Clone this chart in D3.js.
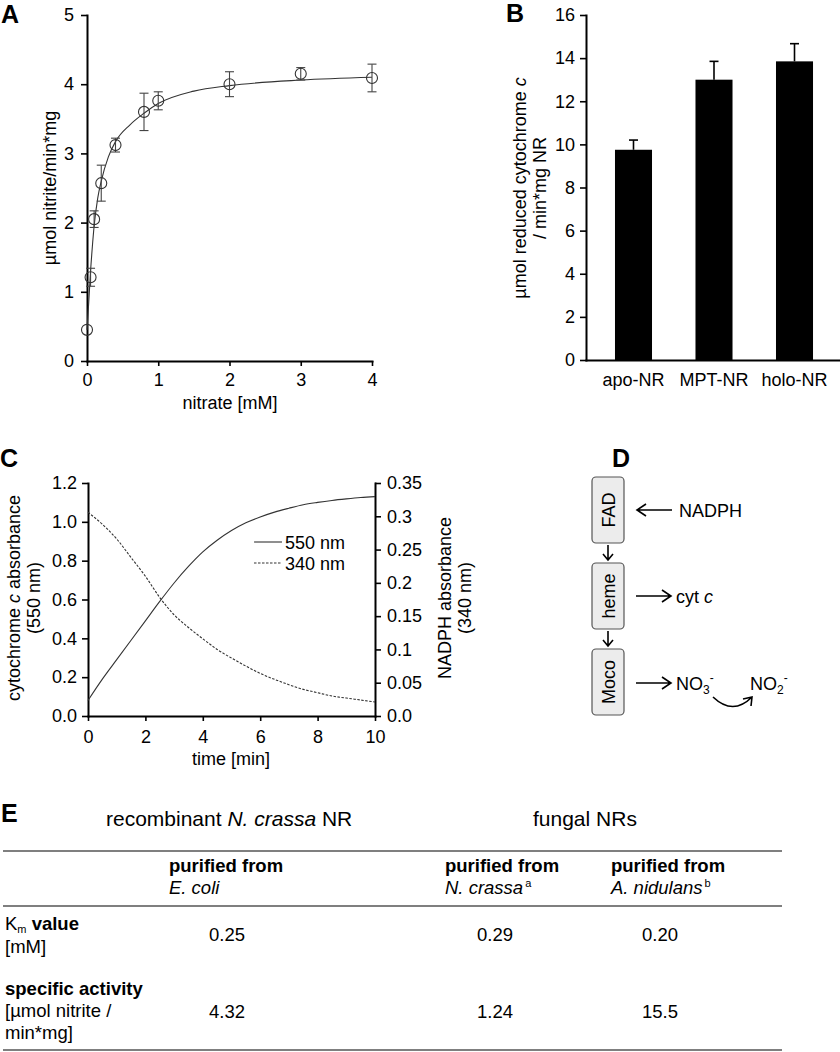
<!DOCTYPE html>
<html><head><meta charset="utf-8">
<script src="https://cdn.jsdelivr.net/npm/d3@7"></script>
<style>
body{margin:0;background:#fff}
svg{display:block}
text{font-family:"Liberation Sans",Arial,Helvetica,sans-serif;fill:#000}
</style>
</head><body>
<svg id="c" width="840" height="1052"></svg>
<script>
// ---------- Panel A data ----------
const nitrateConc = [0, 0.05, 0.1, 0.2, 0.4, 0.8, 1, 2, 3, 4];
const nitriteRate = [0.45, 1.21, 2.05, 2.57, 3.12, 3.6, 3.76, 4.0, 4.15, 4.09];
const nitriteErr  = [0, 0.13, 0.12, 0.26, 0.1, 0.27, 0.13, 0.18, 0.09, 0.2];
const fitX = [0, 0.025, 0.05, 0.075, 0.1, 0.15, 0.2, 0.3, 0.4, 0.6, 0.8, 1, 1.5, 2, 3, 4];
const fitY = [0.45, 0.86, 1.3, 1.65, 1.95, 2.35, 2.6, 2.95, 3.17, 3.41, 3.58, 3.72, 3.9, 3.98, 4.06, 4.1];
const xTicksA = [0, 1, 2, 3, 4];
const yTicksA = [0, 1, 2, 3, 4, 5];

// ---------- Panel B data ----------
const variants = ["apo-NR", "MPT-NR", "holo-NR"];
const cytcActivity = [9.75, 13.0, 13.85];
const cytcErr = [0.45, 0.85, 0.82];
const yTicksB = [0, 2, 4, 6, 8, 10, 12, 14, 16];

// ---------- Panel C data ----------
const timeMin = [0, 0.5, 1, 1.5, 2, 2.5, 3, 3.5, 4, 4.5, 5, 5.5, 6, 6.5, 7, 7.5, 8, 8.5, 9, 9.5, 10];
const abs550 = [0.08, 0.19, 0.29, 0.39, 0.49, 0.59, 0.685, 0.77, 0.845, 0.905, 0.955, 0.995, 1.025, 1.05, 1.07, 1.088, 1.1, 1.11, 1.118, 1.125, 1.13];
const abs340 = [0.306, 0.288, 0.266, 0.238, 0.21, 0.178, 0.152, 0.133, 0.116, 0.1, 0.087, 0.075, 0.064, 0.055, 0.047, 0.04, 0.035, 0.03, 0.027, 0.024, 0.021];
const xTicksC = [0, 2, 4, 6, 8, 10];
const yTicksCL = [0, 0.2, 0.4, 0.6, 0.8, 1.0, 1.2];
const yTicksCR = [0, 0.05, 0.1, 0.15, 0.2, 0.25, 0.3, 0.35];
const yTickLabelsCR = ["0.0", "0.05", "0.1", "0.15", "0.2", "0.25", "0.3", "0.35"];
const legendC = ["550 nm", "340 nm"];

// ---------- Panel E data ----------
const kmValues = ["0.25", "0.29", "0.20"];
const activityValues = ["4.32", "1.24", "15.5"];
const sourceOrganisms = ["E. coli", "N. crassa", "A. nidulans"];
const sourceNotes = ["", "a", "b"];

const svg = d3.select("#c");

function styleAxis(g) {
  g.selectAll("text").style("font-size", "18px").attr("fill", "#000");
  g.select(".domain").attr("stroke", "#000").attr("stroke-width", 2).attr("stroke-linecap", "square");
  g.selectAll(".tick line").attr("stroke", "#000").attr("stroke-width", 1.6);
}
function panelLetter(t, x, y) {
  svg.append("text").attr("x", x).attr("y", y).text(t)
    .style("font-size", "25px").style("font-weight", "bold");
}

// =============== Panel A ===============
const xA = d3.scaleLinear().domain([0, 4]).range([87, 372]);
const yA = d3.scaleLinear().domain([0, 5]).range([361, 15]);
const gA = svg.append("g");
gA.append("g").attr("transform", "translate(0,361)")
  .call(d3.axisBottom(xA).tickValues(xTicksA).tickFormat(d3.format("d")).tickSize(5).tickPadding(7).tickSizeOuter(0))
  .call(styleAxis);
gA.append("g").attr("transform", "translate(87,0)")
  .call(d3.axisLeft(yA).tickValues(yTicksA).tickFormat(d3.format("d")).tickSize(6).tickPadding(7).tickSizeOuter(0))
  .call(styleAxis);
const fitPts = fitX.map((x, i) => [x, fitY[i]]);
gA.append("path").datum(fitPts)
  .attr("d", d3.line().x(d => xA(d[0])).y(d => yA(d[1])).curve(d3.curveMonotoneX))
  .attr("fill", "none").attr("stroke", "#333").attr("stroke-width", 1.1);
const ptsA = nitrateConc.map((x, i) => ({x, y: nitriteRate[i], e: nitriteErr[i]}));
const errA = gA.append("g").attr("stroke", "#444").attr("stroke-width", 1.1);
ptsA.filter(d => d.e > 0).forEach(d => {
  const cx = xA(d.x);
  errA.append("line").attr("x1", cx).attr("x2", cx).attr("y1", yA(d.y - d.e)).attr("y2", yA(d.y + d.e));
  errA.append("line").attr("x1", cx - 4.5).attr("x2", cx + 4.5).attr("y1", yA(d.y - d.e)).attr("y2", yA(d.y - d.e));
  errA.append("line").attr("x1", cx - 4.5).attr("x2", cx + 4.5).attr("y1", yA(d.y + d.e)).attr("y2", yA(d.y + d.e));
});
gA.selectAll("circle").data(ptsA).join("circle")
  .attr("cx", d => xA(d.x)).attr("cy", d => yA(d.y)).attr("r", 5.5)
  .attr("fill", "none").attr("stroke", "#333").attr("stroke-width", 1.1);
gA.append("text").attr("x", 230).attr("y", 409).attr("text-anchor", "middle").style("font-size", "18px").text("nitrate [mM]");
gA.append("text").attr("transform", "translate(56,188) rotate(-90)").attr("text-anchor", "middle")
  .style("font-size", "18px").text("µmol nitrite/min*mg");
panelLetter("A", 1, 23);

// =============== Panel B ===============
const xB = d3.scaleBand().domain(variants).range([586, 842]).paddingInner(0.54).paddingOuter(0.36);
const yB = d3.scaleLinear().domain([0, 16]).range([360, 15]);
const gB = svg.append("g");
gB.selectAll("rect").data(variants).join("rect")
  .attr("x", d => xB(d)).attr("width", xB.bandwidth())
  .attr("y", (d, i) => yB(cytcActivity[i])).attr("height", (d, i) => yB(0) - yB(cytcActivity[i]))
  .attr("fill", "#000");
variants.forEach((v, i) => {
  const cx = xB(v) + xB.bandwidth() / 2;
  const top = yB(cytcActivity[i] + cytcErr[i]);
  gB.append("line").attr("x1", cx).attr("x2", cx).attr("y1", yB(cytcActivity[i])).attr("y2", top).attr("stroke", "#000").attr("stroke-width", 1.6);
  gB.append("line").attr("x1", cx - 4.5).attr("x2", cx + 4.5).attr("y1", top).attr("y2", top).attr("stroke", "#000").attr("stroke-width", 1.6);
});
gB.append("g").attr("transform", "translate(586,0)")
  .call(d3.axisLeft(yB).tickValues(yTicksB).tickFormat(d3.format("d")).tickSize(6).tickPadding(5).tickSizeOuter(0))
  .call(styleAxis);
gB.append("g").attr("transform", "translate(0,360)")
  .call(d3.axisBottom(xB).tickSize(0).tickPadding(13).tickSizeOuter(0))
  .call(styleAxis);
gB.append("text").attr("transform", "translate(526,188) rotate(-90)").attr("text-anchor", "middle")
  .style("font-size", "18px")
  .call(t => { t.append("tspan").text("µmol reduced cytochrome "); t.append("tspan").style("font-style", "italic").text("c"); });
gB.append("text").attr("transform", "translate(546,188) rotate(-90)").attr("text-anchor", "middle")
  .style("font-size", "18px").text("/ min*mg NR");
panelLetter("B", 506, 22);

// =============== Panel C ===============
const xC = d3.scaleLinear().domain([0, 10]).range([88, 375]);
const yCL = d3.scaleLinear().domain([0, 1.2]).range([716, 483]);
const yCR = d3.scaleLinear().domain([0, 0.35]).range([716, 483]);
const gC = svg.append("g");
gC.append("g").attr("transform", "translate(0,716)")
  .call(d3.axisBottom(xC).tickValues(xTicksC).tickFormat(d3.format("d")).tickSize(5).tickPadding(9).tickSizeOuter(0))
  .call(styleAxis);
gC.append("g").attr("transform", "translate(88,0)")
  .call(d3.axisLeft(yCL).tickValues(yTicksCL).tickFormat(d3.format(".1f")).tickSize(6).tickPadding(5).tickSizeOuter(0))
  .call(styleAxis);
gC.append("g").attr("transform", "translate(375,0)")
  .call(d3.axisRight(yCR).tickValues(yTicksCR).tickFormat((d, i) => yTickLabelsCR[i]).tickSize(6).tickPadding(6).tickSizeOuter(0))
  .call(styleAxis);
gC.append("path").datum(timeMin.map((t, i) => [t, abs550[i]]))
  .attr("d", d3.line().x(d => xC(d[0])).y(d => yCL(d[1])).curve(d3.curveMonotoneX))
  .attr("fill", "none").attr("stroke", "#333").attr("stroke-width", 1.1);
gC.append("path").datum(timeMin.map((t, i) => [t, abs340[i]]))
  .attr("d", d3.line().x(d => xC(d[0])).y(d => yCR(d[1])).curve(d3.curveMonotoneX))
  .attr("fill", "none").attr("stroke", "#333").attr("stroke-width", 1.1).attr("stroke-dasharray", "2.5,1.5");
// legend
const legG = gC.append("g");
legendC.forEach((lab, i) => {
  const ly = 542 + i * 21;
  legG.append("line").attr("x1", 254).attr("x2", 282).attr("y1", ly).attr("y2", ly)
    .attr("stroke", "#333").attr("stroke-width", 1.1).attr("stroke-dasharray", i ? "2.5,1.5" : null);
  legG.append("text").attr("x", 285).attr("y", ly + 6.5).style("font-size", "18px").text(lab);
});
gC.append("text").attr("x", 231).attr("y", 765).attr("text-anchor", "middle").style("font-size", "18px").text("time [min]");
gC.append("text").attr("transform", "translate(20,598) rotate(-90)").attr("text-anchor", "middle").style("font-size", "18px")
  .call(t => { t.append("tspan").text("cytochrome "); t.append("tspan").style("font-style", "italic").text("c"); t.append("tspan").text(" absorbance"); });
gC.append("text").attr("transform", "translate(40,598) rotate(-90)").attr("text-anchor", "middle").style("font-size", "18px").text("(550 nm)");
gC.append("text").attr("transform", "translate(451,598) rotate(-90)").attr("text-anchor", "middle").style("font-size", "18px").text("NADPH absorbance");
gC.append("text").attr("transform", "translate(471,598) rotate(-90)").attr("text-anchor", "middle").style("font-size", "18px").text("(340 nm)");
panelLetter("C", 0, 467);

// =============== Panel D ===============
const gD = svg.append("g");
const boxes = [{t: "FAD", y0: 477, y1: 543}, {t: "heme", y0: 563, y1: 629}, {t: "Moco", y0: 649, y1: 715}];
boxes.forEach(b => {
  gD.append("rect").attr("x", 592).attr("y", b.y0).attr("width", 32).attr("height", b.y1 - b.y0)
    .attr("rx", 4).attr("fill", "#ececec").attr("stroke", "#555").attr("stroke-width", 1.2);
  gD.append("text").attr("transform", `translate(614.5,${(b.y0 + b.y1) / 2}) rotate(-90)`)
    .attr("text-anchor", "middle").style("font-size", "18px").text(b.t);
});
const arrowStroke = g => g.attr("fill", "none").attr("stroke", "#000").attr("stroke-width", 1.6);
[[545, 560], [631, 646]].forEach(([a, b]) => {
  gD.append("path").attr("d", `M608,${a}V${b}M603,${b - 6}L608,${b}L613,${b - 6}`).call(arrowStroke);
});
gD.append("path").attr("d", "M672,510H637M646,504L637,510L646,516").call(arrowStroke);
gD.append("text").attr("x", 679).attr("y", 517).style("font-size", "18px").text("NADPH");
gD.append("path").attr("d", "M636,596H671M662,590L671,596L662,602").call(arrowStroke);
gD.append("text").attr("x", 676).attr("y", 603).style("font-size", "18px")
  .call(t => { t.append("tspan").text("cyt "); t.append("tspan").style("font-style", "italic").text("c"); });
gD.append("path").attr("d", "M636,683H671M662,677L671,683L662,689").call(arrowStroke);
gD.append("text").attr("x", 676).attr("y", 690).style("font-size", "18px")
  .call(t => {
    t.append("tspan").text("NO");
    t.append("tspan").attr("dy", 4).style("font-size", "12px").text("3");
    t.append("tspan").attr("dy", -12).style("font-size", "12px").text("-");
  });
gD.append("text").attr("x", 750).attr("y", 690).style("font-size", "18px")
  .call(t => {
    t.append("tspan").text("NO");
    t.append("tspan").attr("dy", 4).style("font-size", "12px").text("2");
    t.append("tspan").attr("dy", -12).style("font-size", "12px").text("-");
  });
gD.append("path").attr("d", "M713,697Q733,716 752,697M743,699L752,697L751,706").call(arrowStroke);
panelLetter("D", 612, 467);

// =============== Panel E ===============
const gE = svg.append("g");
panelLetter("E", 1, 822);
gE.append("text").attr("x", 106).attr("y", 826).style("font-size", "21px")
  .call(t => { t.append("tspan").text("recombinant "); t.append("tspan").style("font-style", "italic").text("N. crassa"); t.append("tspan").text(" NR"); });
gE.append("text").attr("x", 533).attr("y", 826).style("font-size", "21px").text("fungal NRs");
[851, 906, 1050].forEach(y => gE.append("line").attr("x1", 3).attr("x2", 782).attr("y1", y).attr("y2", y)
  .attr("stroke", "#555").attr("stroke-width", 1.5));
const colX = [169, 445, 611];
const valX = [227, 495, 660];
sourceOrganisms.forEach((org, i) => {
  gE.append("text").attr("x", colX[i]).attr("y", 872).style("font-size", "18.5px").style("font-weight", "bold").text("purified from");
  const t = gE.append("text").attr("x", colX[i]).attr("y", 894).style("font-size", "18.5px");
  t.append("tspan").style("font-style", "italic").text(org);
  if (sourceNotes[i]) t.append("tspan").attr("dx", 2).attr("dy", -7).style("font-size", "11px").text(sourceNotes[i]);
});
gE.append("text").attr("x", 5).attr("y", 930).style("font-size", "18.5px")
  .call(t => {
    t.append("tspan").text("K");
    t.append("tspan").attr("dy", 3).style("font-size", "11px").text("m");
    t.append("tspan").attr("dy", -3).style("font-weight", "bold").text(" value");
  });
gE.append("text").attr("x", 5).attr("y", 953).style("font-size", "18.5px").text("[mM]");
gE.append("text").attr("x", 5).attr("y", 995).style("font-size", "18.5px").style("font-weight", "bold").text("specific activity");
gE.append("text").attr("x", 5).attr("y", 1017).style("font-size", "18.5px").text("[µmol nitrite /");
gE.append("text").attr("x", 5).attr("y", 1039).style("font-size", "18.5px").text("min*mg]");
kmValues.forEach((v, i) => gE.append("text").attr("x", valX[i]).attr("y", 941).attr("text-anchor", "middle").style("font-size", "18.5px").text(v));
activityValues.forEach((v, i) => gE.append("text").attr("x", valX[i]).attr("y", 1018).attr("text-anchor", "middle").style("font-size", "18.5px").text(v));
</script>
</body></html>
